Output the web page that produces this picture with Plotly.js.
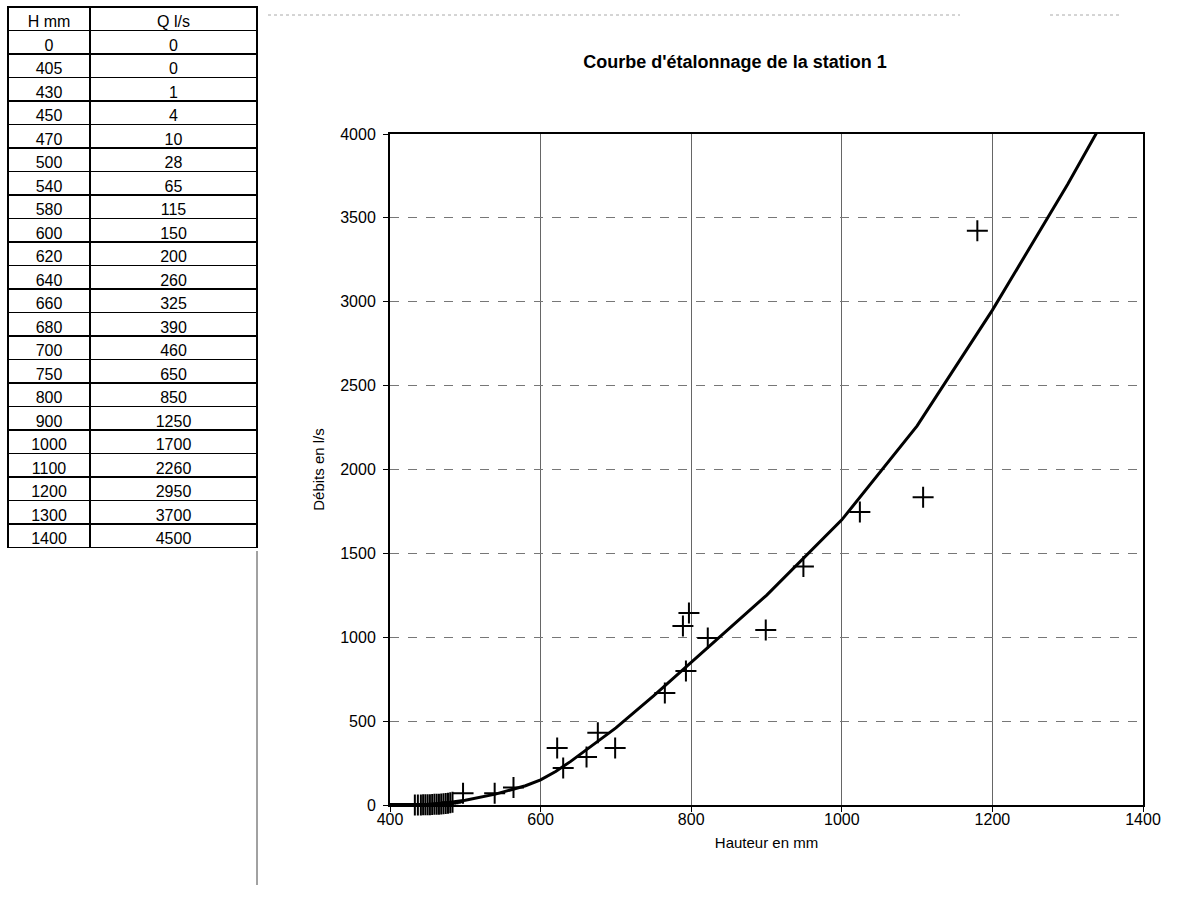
<!DOCTYPE html>
<html>
<head>
<meta charset="utf-8">
<script src="https://cdn.plot.ly/plotly-3.0.1.min.js"></script>
<style>
  html, body { margin: 0; padding: 0; background: #fff; }
  #chart { width: 1190px; height: 914px; }
</style>
</head>
<body>
<div id="chart"></div>
<script>
// Table de tarage (hauteur -> débit) : sert aussi à tracer la courbe
const tableHauteur = [0, 405, 430, 450, 470, 500, 540, 580, 600, 620, 640, 660, 680, 700, 750, 800, 900, 1000, 1100, 1200, 1300, 1400];
const tableDebit   = [0, 0, 1, 4, 10, 28, 65, 115, 150, 200, 260, 325, 390, 460, 650, 850, 1250, 1700, 2260, 2950, 3700, 4500];
const tableEntetes = ['H mm', 'Q l/s'];

// Jaugeages mesurés
const mesureHauteur = [433, 437, 441, 444, 447, 450, 453, 456, 459, 462, 465, 468, 471, 474, 477, 480, 483,
                       497, 539, 564, 622, 630, 661, 676, 699, 765, 793, 789, 797, 822, 899, 949, 1024, 1108, 1180];
const mesureDebit   = [0, 0, 0, 1, 1, 2, 2, 3, 4, 5, 5, 6, 8, 9, 11, 13, 16,
                       70, 70, 105, 340, 220, 286, 430, 340, 667, 799, 1067, 1144, 995, 1043, 1422, 1746, 1834, 3423];

const titreGraphique = "Courbe d'étalonnage de la station 1";
const titreX = 'Hauteur en mm';
const titreY = 'Débits en l/s';

const W = 1190, H = 914;
const police = 'Liberation Sans, Arial, Helvetica, sans-serif';
const px = v => v / W;
const py = v => (H - v) / H;

const traces = [
  {
    type: 'table',
    domain: { x: [px(8), px(257)], y: [py(551), py(7)] },
    columnwidth: [82, 167],
    header: {
      values: tableEntetes,
      align: 'center',
      height: 23.5,
      line: { color: '#000', width: 1.5 },
      fill: { color: '#fff' },
      font: { family: police, size: 16, color: '#000' }
    },
    cells: {
      values: [tableHauteur, tableDebit],
      align: 'center',
      height: 23.5,
      line: { color: '#000', width: 1.5 },
      fill: { color: '#fff' },
      font: { family: police, size: 16, color: '#000' }
    }
  },
  {
    type: 'scatter',
    mode: 'lines',
    x: tableHauteur,
    y: tableDebit,
    line: { color: '#000', width: 3 },
    hoverinfo: 'skip',
    showlegend: false
  },
  {
    type: 'scatter',
    mode: 'markers',
    x: mesureHauteur,
    y: mesureDebit,
    cliponaxis: false,
    marker: { symbol: 'cross-thin', size: 15, color: '#000', line: { color: '#000', width: 2 } },
    showlegend: false
  }
];

const layout = {
  width: W,
  height: H,
  margin: { l: 0, r: 0, t: 0, b: 0 },
  paper_bgcolor: '#fff',
  plot_bgcolor: '#fff',
  font: { family: police, size: 16, color: '#000' },
  showlegend: false,
  title: {
    text: '<b>' + titreGraphique + '</b>',
    font: { family: police, size: 18, color: '#000' },
    x: px(735), xref: 'container', xanchor: 'center',
    y: py(62), yref: 'container', yanchor: 'middle'
  },
  xaxis: {
    domain: [px(390), px(1143)],
    range: [400, 1400],
    dtick: 200,
    tick0: 400,
    ticks: 'outside', ticklen: 5, tickwidth: 1, tickcolor: '#000',
    ticklabelstandoff: -6,
    showline: true, linecolor: '#000', linewidth: 2, mirror: true,
    showgrid: true, gridcolor: '#666', gridwidth: 1,
    zeroline: false,
    automargin: false,
    tickfont: { family: police, size: 16, color: '#000' },
    title: { text: titreX, font: { family: police, size: 15, color: '#000' }, standoff: 10 }
  },
  yaxis: {
    domain: [py(805), py(134)],
    range: [0, 4000],
    dtick: 500,
    ticks: 'outside', ticklen: 5, tickwidth: 1, tickcolor: '#000',
    ticklabelstandoff: 4,
    showline: true, linecolor: '#000', linewidth: 2, mirror: true,
    showgrid: true, gridcolor: '#777', gridwidth: 1, griddash: 'dash',
    zeroline: false,
    automargin: false,
    tickfont: { family: police, size: 16, color: '#000' },
    title: { text: titreY, font: { family: police, size: 15, color: '#000' }, standoff: 12 }
  },
  shapes: [
    // trait vertical prolongeant le bord droit du tableau
    { type: 'line', xref: 'paper', yref: 'paper', x0: px(257), x1: px(257), y0: py(551), y1: py(885),
      line: { color: '#444', width: 1 } },
    // filet pointillé en haut de page
    { type: 'line', xref: 'paper', yref: 'paper', x0: px(268), x1: px(960), y0: py(15), y1: py(15),
      line: { color: '#aaa', width: 1, dash: 'dot' } },
    { type: 'line', xref: 'paper', yref: 'paper', x0: px(1050), x1: px(1120), y0: py(15), y1: py(15),
      line: { color: '#aaa', width: 1, dash: 'dot' } }
  ]
};

Plotly.newPlot('chart', traces, layout, { displayModeBar: false, staticPlot: true });
</script>
</body>
</html>
